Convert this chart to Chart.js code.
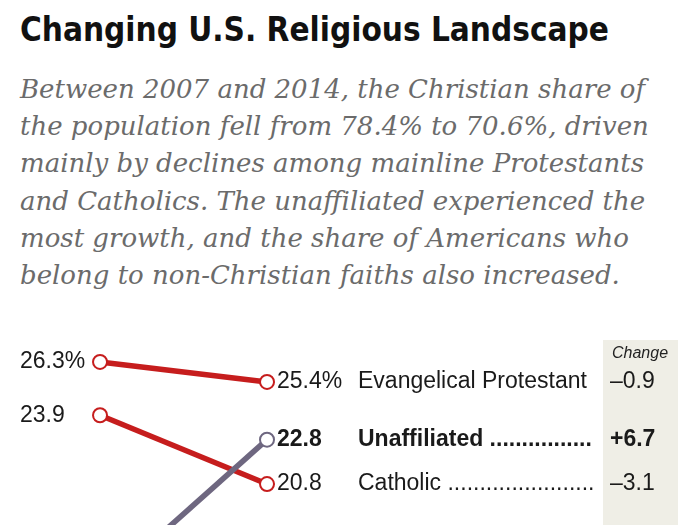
<!DOCTYPE html>
<html>
<head>
<meta charset="utf-8">
<script src="https://cdn.jsdelivr.net/npm/chart.js@4"></script>
<style>
  html, body { margin: 0; padding: 0; background: #fff; overflow: hidden; width: 700px; height: 525px; }
  #title {
    position: absolute; left: 20px; top: 10px;
    font-family: "Liberation Sans Narrow", "DejaVu Sans Condensed", sans-serif;
    font-weight: bold; font-size: 33px; color: #111; white-space: nowrap;
  }
  #sub {
    position: absolute; left: 20px; top: 71px;
    font-family: "DejaVu Serif", serif; font-style: italic;
    font-size: 26px; line-height: 37.2px; color: #6b6b6b; white-space: nowrap;
  }
  #wrap { position: absolute; left: 0; top: 320px; width: 700px; height: 400px; }
</style>
</head>
<body>
<div id="title">Changing U.S. Religious Landscape</div>
<div id="sub">Between 2007 and 2014, the Christian share of<br>the population fell from 78.4% to 70.6%, driven<br>mainly by declines among mainline Protestants<br>and Catholics. The unaffiliated experienced the<br>most growth, and the share of Americans who<br>belong to non-Christian faiths also increased.</div>
<div id="wrap"><canvas id="slopeChart"></canvas></div>
<script>
// datos
const years = ['2007', '2014'];
const groups = ['Evangelical Protestant', 'Unaffiliated', 'Catholic'];
const share2007 = [26.3, 16.1, 23.9];
const share2014 = [25.4, 22.8, 20.8];
const lineColors = ['#c61d1d', '#6e6780', '#c61d1d'];
const boldRows = [false, true, false];

const labelFont = '"Liberation Sans", Arial, sans-serif';

function fmtChange(v) {
  const s = Math.abs(v).toFixed(1);
  return (v > 0 ? '+' : '\u2013') + s;
}

// etiquetas y columna de cambio
const slopeLabels = {
  id: 'slopeLabels',
  beforeDatasetsDraw(chart) {
    const ctx = chart.ctx;
    ctx.save();
    ctx.fillStyle = '#efeee6';
    ctx.fillRect(603, 20, 75, chart.height);
    ctx.fillStyle = '#222';
    ctx.font = 'italic 16px ' + labelFont;
    ctx.textAlign = 'center';
    ctx.textBaseline = 'middle';
    ctx.fillText('Change', 640, 34);
    ctx.restore();
  },
  afterDatasetsDraw(chart) {
    const ctx = chart.ctx;
    const y = chart.scales.y;
    ctx.save();
    ctx.textBaseline = 'middle';
    ctx.fillStyle = '#1a1a1a';
    groups.forEach((g, i) => {
      const b = boldRows[i] ? 'bold ' : '';
      const first = i === 0;
      const yl = y.getPixelForValue(share2007[i]);
      const yr = y.getPixelForValue(share2014[i]);
      ctx.font = '23px ' + labelFont;
      ctx.textAlign = 'left';
      ctx.fillText(share2007[i].toFixed(1) + (first ? '%' : ''), 20, yl);
      ctx.font = b + '23px ' + labelFont;
      ctx.fillText(share2014[i].toFixed(1) + (first ? '%' : ''), 277, yr);
      let name = g;
      if (!first) {
        name += ' ';
        while (ctx.measureText(name + '.').width < 597 - 358) name += '.';
      }
      ctx.fillText(name, 358, yr);
      ctx.fillText(fmtChange(share2014[i] - share2007[i]), 610, yr);
    });
    ctx.restore();
  }
};

new Chart(document.getElementById('slopeChart'), {
  type: 'line',
  data: {
    datasets: groups.map((g, i) => ({
      label: g,
      data: [{x: 0, y: share2007[i]}, {x: 1, y: share2014[i]}],
      borderColor: lineColors[i],
      borderWidth: 5.5,
      pointRadius: 7,
      pointBorderWidth: 2,
      pointBackgroundColor: '#fff',
      pointBorderColor: lineColors[i]
    }))
  },
  options: {
    responsive: true,
    maintainAspectRatio: false,
    animation: false,
    layout: { padding: 0, autoPadding: false },
    scales: {
      x: { type: 'linear', display: false, min: -0.599, max: 3.593 },
      y: { display: false, min: 10.17, max: 28.19 }
    },
    plugins: {
      legend: { display: false },
      tooltip: { enabled: false }
    }
  },
  plugins: [slopeLabels]
});
</script>
</body>
</html>
